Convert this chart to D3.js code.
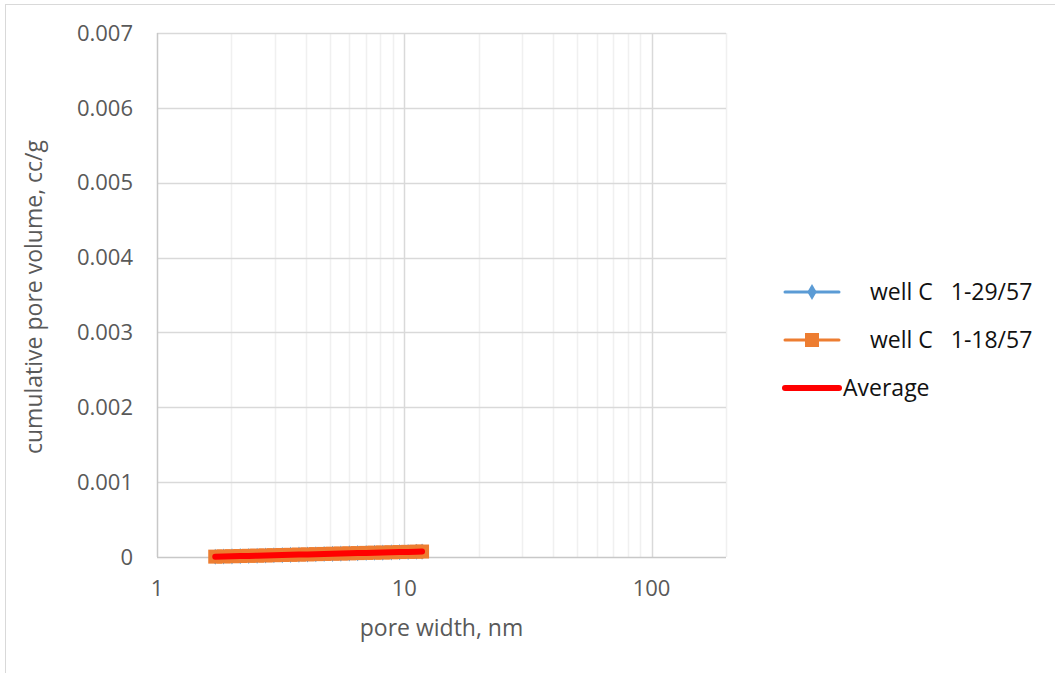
<!DOCTYPE html>
<html>
<head>
<meta charset="utf-8">
<script src="https://cdn.jsdelivr.net/npm/d3@7"></script>
<style>
  body { margin: 0; background: #fff; }
  #chart { width: 1055px; height: 673px; }
  text { font-family: 'Open Sans', sans-serif; }
  .tick-label { fill: #595959; font-size: 22px; }
  .axis-title { fill: #595959; font-size: 23px; }
  .legend-label { fill: #111; font-size: 23px; white-space: pre; }
</style>
</head>
<body>
<div id="chart"></div>
<script>
// pore width, nm
const poreWidth = [1.72, 1.86, 2.01, 2.17, 2.35, 2.54, 2.75, 2.97, 3.21, 3.47, 3.75, 4.06, 4.39,
  4.74, 5.13, 5.54, 5.99, 6.48, 7.01, 7.58, 8.19, 8.86, 9.58, 10.36, 11.2, 11.8];

// cumulative pore volume, cc/g
const well29 = [0.000003, 0.000006, 0.000009, 0.000011, 0.000014, 0.000017, 0.00002, 0.000023,
  0.000025, 0.000028, 0.000031, 0.000034, 0.000037, 0.00004, 0.000042, 0.000045, 0.000048,
  0.000051, 0.000053, 0.000056, 0.000059, 0.000062, 0.000065, 0.000067, 0.00007, 0.000072];
const well18 = [0.000005, 0.000008, 0.00001, 0.000013, 0.000016, 0.000018, 0.000021, 0.000024,
  0.000027, 0.000029, 0.000032, 0.000035, 0.000038, 0.000041, 0.000044, 0.000046, 0.000049,
  0.000052, 0.000055, 0.000058, 0.00006, 0.000063, 0.000066, 0.000069, 0.000071, 0.000073];
const average = [0.000004, 0.000007, 0.00001, 0.000012, 0.000015, 0.000018, 0.000021, 0.000024,
  0.000026, 0.000029, 0.000032, 0.000035, 0.000038, 0.00004, 0.000043, 0.000046, 0.000049,
  0.000052, 0.000054, 0.000057, 0.00006, 0.000063, 0.000066, 0.000068, 0.000071, 0.000073];

const seriesNames = ['well C   1-29/57', 'well C   1-18/57', 'Average'];
const yTicks = [0, 0.001, 0.002, 0.003, 0.004, 0.005, 0.006, 0.007];
const xMajorTicks = [1, 10, 100];
const xMinorTicks = [2, 3, 4, 5, 6, 7, 8, 9, 20, 30, 40, 50, 60, 70, 80, 90, 200];

const margin = { left: 157, top: 33, right: 329, bottom: 116 };
const fullW = 1055;
const fullH = 673;
const width = fullW - margin.left - margin.right;
const height = fullH - margin.top - margin.bottom;

const svg = d3.select('#chart').append('svg')
  .attr('width', fullW)
  .attr('height', fullH);

// outer chart border
svg.append('rect')
  .attr('x', 5.5)
  .attr('y', 4.5)
  .attr('width', fullW + 10)
  .attr('height', fullH + 10)
  .attr('fill', '#fff')
  .attr('stroke', '#d9d9d9');

const g = svg.append('g')
  .attr('transform', `translate(${margin.left}, ${margin.top})`);

const x = d3.scaleLog()
  .domain([1, 200])
  .range([0, width]);

const y = d3.scaleLinear()
  .domain([0, 0.007])
  .range([height, 0]);

// gridlines
g.selectAll('.x-minor')
  .data(xMinorTicks)
  .enter().append('line')
    .attr('class', 'x-minor')
    .attr('x1', (d) => Math.round(x(d)) + 0.5)
    .attr('x2', (d) => Math.round(x(d)) + 0.5)
    .attr('y1', 0)
    .attr('y2', height)
    .attr('stroke', '#f0f0f0')
    .attr('stroke-width', 1.5);

g.selectAll('.y-grid')
  .data(yTicks.slice(1))
  .enter().append('line')
    .attr('class', 'y-grid')
    .attr('x1', 0)
    .attr('x2', width)
    .attr('y1', (d) => Math.round(y(d)) + 0.5)
    .attr('y2', (d) => Math.round(y(d)) + 0.5)
    .attr('stroke', '#d9d9d9')
    .attr('stroke-width', 1.5);

g.selectAll('.x-major')
  .data(xMajorTicks.slice(1))
  .enter().append('line')
    .attr('class', 'x-major')
    .attr('x1', (d) => Math.round(x(d)) + 0.5)
    .attr('x2', (d) => Math.round(x(d)) + 0.5)
    .attr('y1', 0)
    .attr('y2', height)
    .attr('stroke', '#d9d9d9')
    .attr('stroke-width', 1.5);

// axis lines
g.append('line')
  .attr('x1', 0.5).attr('x2', 0.5)
  .attr('y1', 0).attr('y2', height)
  .attr('stroke', '#c8c8c8')
  .attr('stroke-width', 1.5);
g.append('line')
  .attr('x1', 0).attr('x2', width)
  .attr('y1', height + 0.5).attr('y2', height + 0.5)
  .attr('stroke', '#c8c8c8')
  .attr('stroke-width', 1.5);

// tick labels
g.selectAll('.y-label')
  .data(yTicks)
  .enter().append('text')
    .attr('class', 'tick-label')
    .attr('x', -24)
    .attr('y', (d) => y(d))
    .attr('dy', '0.35em')
    .attr('text-anchor', 'end')
    .text((d) => (d === 0 ? '0' : d3.format('.3f')(d)));

g.selectAll('.x-label')
  .data(xMajorTicks)
  .enter().append('text')
    .attr('class', 'tick-label')
    .attr('x', (d) => x(d))
    .attr('y', height + 39)
    .attr('text-anchor', 'middle')
    .text((d) => d);

// axis titles
g.append('text')
  .attr('class', 'axis-title')
  .attr('x', width / 2)
  .attr('y', height + 79)
  .attr('text-anchor', 'middle')
  .text('pore width, nm');

g.append('text')
  .attr('class', 'axis-title')
  .attr('transform', `translate(-115, ${height / 2 + 2}) rotate(-90)`)
  .attr('text-anchor', 'middle')
  .text('cumulative pore volume, cc/g');

// series
const line = d3.line()
  .x((d) => x(d[0]))
  .y((d) => y(d[1]));

const blueData = d3.zip(poreWidth, well29);
const orangeData = d3.zip(poreWidth, well18);
const avgData = d3.zip(poreWidth, average);

const diamond = d3.symbol().type(d3.symbolDiamond).size(75);

g.append('path')
  .datum(blueData)
  .attr('d', line)
  .attr('fill', 'none')
  .attr('stroke', '#5b9bd5')
  .attr('stroke-width', 3);
g.selectAll('.blue-dot')
  .data(blueData)
  .enter().append('path')
    .attr('class', 'blue-dot')
    .attr('d', diamond)
    .attr('transform', (d) => `translate(${x(d[0])}, ${y(d[1])})`)
    .attr('fill', '#5b9bd5');

g.append('path')
  .datum(orangeData)
  .attr('d', line)
  .attr('fill', 'none')
  .attr('stroke', '#ed7d31')
  .attr('stroke-width', 3);
g.selectAll('.orange-dot')
  .data(orangeData)
  .enter().append('rect')
    .attr('class', 'orange-dot')
    .attr('x', (d) => x(d[0]) - 7)
    .attr('y', (d) => y(d[1]) - 7)
    .attr('width', 14)
    .attr('height', 14)
    .attr('fill', '#ed7d31');

g.append('path')
  .datum(avgData)
  .attr('d', line)
  .attr('fill', 'none')
  .attr('stroke', '#ff0000')
  .attr('stroke-width', 6)
  .attr('stroke-linecap', 'round')
  .attr('stroke-linejoin', 'round');

// legend
const legend = svg.append('g')
  .attr('transform', 'translate(785, 0)');

const legendRows = [
  { name: seriesNames[0], y: 292, color: '#5b9bd5', textX: 85 },
  { name: seriesNames[1], y: 340, color: '#ed7d31', textX: 85 },
  { name: seriesNames[2], y: 388, color: '#ff0000', textX: 58 },
];

legend.selectAll('.legend-line')
  .data(legendRows)
  .enter().append('line')
    .attr('class', 'legend-line')
    .attr('x1', 0)
    .attr('x2', 54)
    .attr('y1', (d) => d.y)
    .attr('y2', (d) => d.y)
    .attr('stroke', (d) => d.color)
    .attr('stroke-width', (d, i) => (i === 2 ? 6 : 3))
    .attr('stroke-linecap', 'round');

legend.append('path')
  .attr('d', diamond)
  .attr('transform', `translate(27, ${legendRows[0].y})`)
  .attr('fill', '#5b9bd5');
legend.append('rect')
  .attr('x', 20).attr('y', legendRows[1].y - 7)
  .attr('width', 14).attr('height', 14)
  .attr('fill', '#ed7d31');

legend.selectAll('.legend-label')
  .data(legendRows)
  .enter().append('text')
    .attr('class', 'legend-label')
    .attr('x', (d) => d.textX)
    .attr('y', (d) => d.y)
    .attr('dy', '0.35em')
    .text((d) => d.name);
</script>
</body>
</html>
